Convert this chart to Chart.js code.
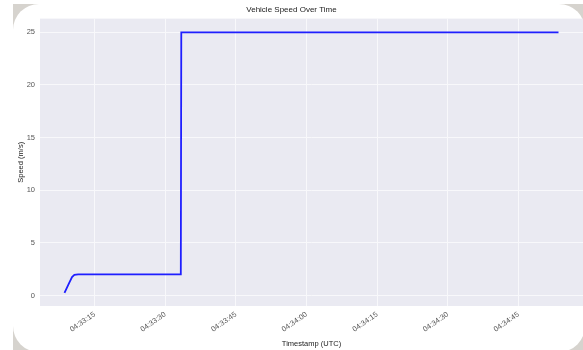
<!DOCTYPE html>
<html>
<head>
  <title>Vehicle Speed Over Time</title>
  <script src="https://cdn.jsdelivr.net/npm/chart.js"></script>
  <style>
    body {
      margin: 0;
      background: #fff;
      width: 583px;
      height: 350px;
      overflow: hidden;
      position: relative;
    }

    #shade {
      position: absolute;
      left: 13px;
      top: 4px;
      width: 572px;
      height: 348px;
      background: #d6d3ce;
    }

    #card {
      position: absolute;
      left: 13px;
      top: 4px;
      width: 572px;
      height: 348px;
      background: #fff;
      border-radius: 26px;
    }

    canvas {
      position: absolute;
      left: 0;
      top: 0;
    }
  </style>
</head>
<body>

  <div id="shade"></div>
  <div id="card"></div>
  <canvas id="speedChart" width="583" height="350"></canvas>

  <script>
    // seconds after 04:33:00 UTC
    const timeSec = [8.6, 9.6, 10.2, 10.7, 11.5, 33.3, 33.4, 113.5];
    const speed = [0.25, 1.2, 1.75, 1.95, 2.0, 2.0, 25.0, 25.0];

    const xTicks = [15, 30, 45, 60, 75, 90, 105];
    const yTicks = [0, 5, 10, 15, 20, 25];

    function fmtTime(s) {
      const m = 33 + Math.floor(s / 60);
      const sec = s % 60;
      return "04:" + String(m).padStart(2, "0") + ":" + String(sec).padStart(2, "0");
    }

    const plotBg = {
      id: "plotBg",
      beforeDraw(chart) {
        const a = chart.chartArea;
        const ctx = chart.ctx;
        ctx.save();
        ctx.fillStyle = "#eaeaf2";
        ctx.fillRect(a.left, a.top, a.right - a.left, a.bottom - a.top);
        ctx.restore();
      }
    };

    const font = { family: "'Liberation Sans', Arial, sans-serif", size: 7.5 };

    new Chart(document.getElementById("speedChart"), {
      type: "line",
      data: {
        datasets: [{
          label: "Speed",
          data: timeSec.map((t, i) => ({ x: t, y: speed[i] })),
          borderColor: "#1f1fff",
          borderWidth: 1.8,
          pointRadius: 0,
          tension: 0,
          fill: false
        }]
      },
      options: {
        responsive: false,
        animation: false,
        layout: { padding: { left: 0, right: 0, top: 0, bottom: 0 } },
        plugins: {
          legend: { display: false },
          tooltip: { enabled: false },
          title: {
            display: true,
            text: "Vehicle Speed Over Time",
            color: "#222",
            font: { family: font.family, size: 8, weight: "normal" },
            padding: { top: 5, bottom: 4 }
          }
        },
        scales: {
          x: {
            type: "linear",
            min: 3.4,
            max: 118.7,
            afterBuildTicks: axis => { axis.ticks = xTicks.map(v => ({ value: v })); },
            afterFit: axis => { axis.height = 44; },
            grid: { color: "#f8f8fb", lineWidth: 1, drawTicks: false },
            border: { display: false },
            ticks: {
              color: "#555",
              font: font,
              minRotation: 35,
              maxRotation: 35,
              padding: 4,
              callback: v => fmtTime(v)
            },
            title: {
              display: true,
              text: "Timestamp (UTC)",
              color: "#222",
              font: font,
              padding: { top: 0, bottom: 2 }
            }
          },
          y: {
            min: -1,
            max: 26.3,
            afterBuildTicks: axis => { axis.ticks = yTicks.map(v => ({ value: v })); },
            afterFit: axis => { axis.width = 40; },
            grid: { color: "#f8f8fb", lineWidth: 1, drawTicks: false },
            border: { display: false },
            ticks: {
              color: "#555",
              font: font,
              padding: 5
            },
            title: {
              display: true,
              text: "Speed (m/s)",
              color: "#222",
              font: font,
              padding: { top: 16, bottom: 4 }
            }
          }
        }
      },
      plugins: [plotBg]
    });
  </script>

</body>
</html>
